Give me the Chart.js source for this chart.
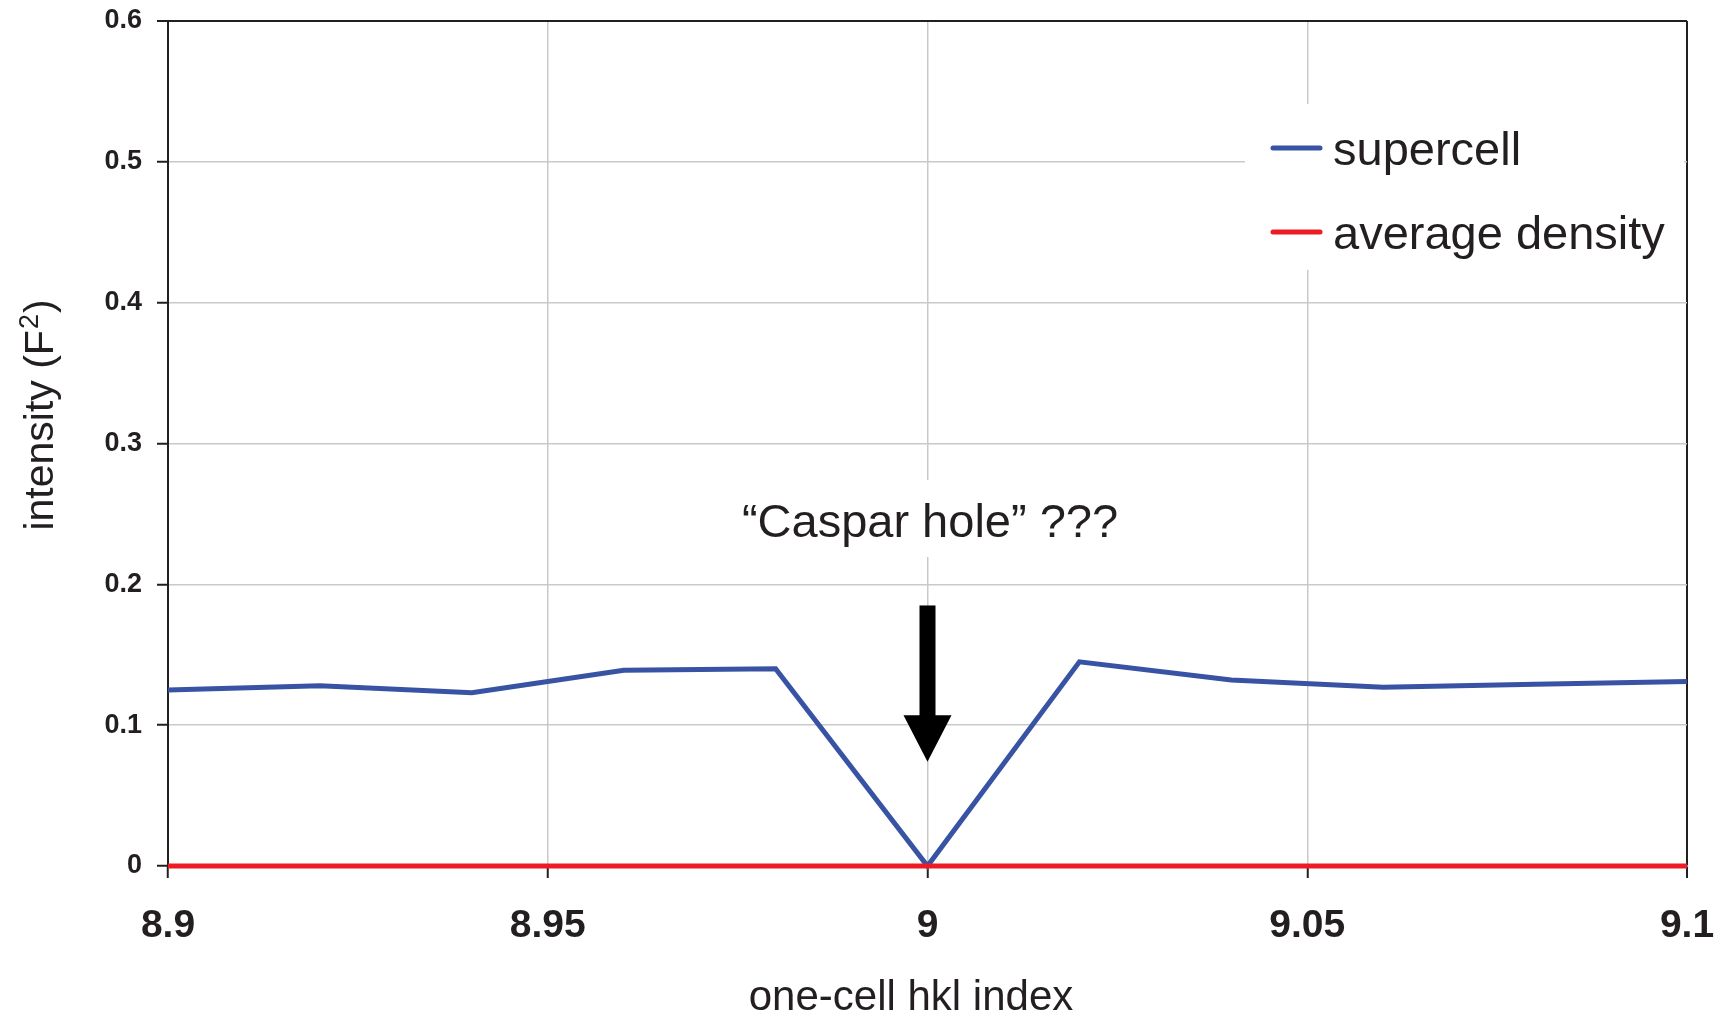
<!DOCTYPE html>
<html>
<head>
<meta charset="utf-8">
<title>Intensity vs. one-cell hkl index</title>
<script src="https://cdn.jsdelivr.net/npm/chart.js@4.4.1/dist/chart.umd.min.js"></script>
<style>
  html, body { margin: 0; padding: 0; background: #fff; }
  #wrap { width: 1725px; height: 1023px; }
</style>
</head>
<body>
<div id="wrap"><canvas id="chart" width="1725" height="1023"></canvas></div>
<script>
// hkl positions and intensities
const hklIndex = [8.90, 8.92, 8.94, 8.96, 8.98, 9.00, 9.02, 9.04, 9.06, 9.08, 9.10];
const supercell = [0.125, 0.128, 0.123, 0.139, 0.140, 0.0, 0.145, 0.132, 0.127, 0.129, 0.131];
const averageDensity = [0, 0, 0, 0, 0, 0, 0, 0, 0, 0, 0];

// axis ticks
const xTicks = [8.9, 8.95, 9, 9.05, 9.1];
const xTickLabels = ["8.9", "8.95", "9", "9.05", "9.1"];
const yTicks = [0, 0.1, 0.2, 0.3, 0.4, 0.5, 0.6];
const yTickLabels = ["0", "0.1", "0.2", "0.3", "0.4", "0.5", "0.6"];

// arrow under the "Caspar hole" note (x, shaft top, head base, tip) in data units
const holeX = 9.0;
const arrowTop = 0.185;
const arrowHeadBase = 0.107;
const arrowTip = 0.074;

const FONT = '"Liberation Sans", Arial, Helvetica, sans-serif';
const INK = "#231f20";
const GRID = "#c9c9c9";
const BLUE = "#3953a4";
const RED = "#ed1c24";

function toPoints(xs, ys) {
  return xs.map((x, i) => ({ x: x, y: ys[i] }));
}

// titles, legend and the note are drawn by hand
const extrasPlugin = {
  id: "extras",
  beforeDatasetsDraw(chart) {
    const { ctx, scales } = chart;
    const x = scales.x;
    const y = scales.y;
    ctx.save();

    // white boxes behind legend and note
    ctx.fillStyle = "#fff";
    ctx.fillRect(1245, 104, 439, 166);
    ctx.fillRect(735, 480, 390, 77);

    // legend
    const rows = [
      { label: chart.data.datasets[0].label, color: chart.data.datasets[0].borderColor, cy: 148 },
      { label: chart.data.datasets[1].label, color: chart.data.datasets[1].borderColor, cy: 232 },
    ];
    ctx.lineCap = "round";
    ctx.lineWidth = 5;
    ctx.font = "47px " + FONT;
    ctx.textAlign = "left";
    ctx.textBaseline = "alphabetic";
    rows.forEach((r) => {
      ctx.strokeStyle = r.color;
      ctx.beginPath();
      ctx.moveTo(1273, r.cy);
      ctx.lineTo(1320, r.cy);
      ctx.stroke();
      ctx.fillStyle = INK;
      ctx.fillText(r.label, 1333, r.cy + 17);
    });

    // note text
    ctx.fillStyle = INK;
    ctx.font = "47px " + FONT;
    ctx.textAlign = "center";
    ctx.fillText("\u201CCaspar hole\u201D ???", 930, 537);

    // arrow
    const ax = x.getPixelForValue(holeX);
    const yTop = y.getPixelForValue(arrowTop);
    const yBase = y.getPixelForValue(arrowHeadBase);
    const yTip = y.getPixelForValue(arrowTip);
    ctx.fillStyle = "#000";
    ctx.fillRect(ax - 8, yTop, 16, yBase - yTop + 1);
    ctx.beginPath();
    ctx.moveTo(ax - 24, yBase);
    ctx.lineTo(ax + 24, yBase);
    ctx.lineTo(ax, yTip);
    ctx.closePath();
    ctx.fill();

    // x axis title
    ctx.fillStyle = INK;
    ctx.font = "42px " + FONT;
    ctx.textAlign = "center";
    ctx.fillText("one-cell hkl index", 911, 1010);

    // y axis title with superscript
    ctx.translate(53, 416);
    ctx.rotate(-Math.PI / 2);
    ctx.textAlign = "left";
    const main = "41px " + FONT;
    const sup = "27px " + FONT;
    ctx.font = main;
    const w1 = ctx.measureText("intensity (F").width;
    const w3 = ctx.measureText(")").width;
    ctx.font = sup;
    const w2 = ctx.measureText("2").width;
    let pos = -(w1 + w2 + w3) / 2;
    ctx.font = main;
    ctx.fillText("intensity (F", pos, 0);
    pos += w1;
    ctx.font = sup;
    ctx.fillText("2", pos + 1, -15);
    pos += w2 + 2;
    ctx.font = main;
    ctx.fillText(")", pos, 0);

    ctx.restore();
  },
};

const chart = new Chart(document.getElementById("chart"), {
  type: "line",
  data: {
    datasets: [
      {
        label: "supercell",
        data: toPoints(hklIndex, supercell),
        borderColor: BLUE,
        borderWidth: 5,
        clip: false,
        order: 1,
      },
      {
        label: "average density",
        data: toPoints(hklIndex, averageDensity),
        borderColor: RED,
        borderWidth: 5,
        clip: false,
        order: 0,
      },
    ],
  },
  options: {
    responsive: false,
    animation: false,
    devicePixelRatio: 1,
    layout: { padding: { left: 0, top: 21, right: 38, bottom: 0 } },
    elements: {
      point: { radius: 0, hoverRadius: 0 },
      line: { tension: 0, fill: false },
    },
    plugins: {
      legend: { display: false },
      tooltip: { enabled: false },
    },
    scales: {
      x: {
        type: "linear",
        min: 8.9,
        max: 9.1,
        afterBuildTicks: (s) => {
          s.ticks = xTicks.map((v) => ({ value: v }));
        },
        afterFit: (s) => {
          s.height = 157;
          s.paddingLeft = 0;
          s.paddingRight = 0;
        },
        ticks: {
          autoSkip: false,
          maxRotation: 0,
          padding: 25,
          color: INK,
          font: { family: FONT, size: 39, weight: "bold" },
          callback: (v, i) => xTickLabels[i],
        },
        grid: {
          color: (c) => (c.tick && c.tick.value === 9.1 ? INK : GRID),
          lineWidth: (c) => (c.tick && c.tick.value === 9.1 ? 2 : 1.5),
          tickColor: INK,
          tickLength: 12,
          tickWidth: 2,
        },
        border: { color: INK, width: 2 },
      },
      y: {
        type: "linear",
        min: 0,
        max: 0.6,
        afterBuildTicks: (s) => {
          s.ticks = yTicks.map((v) => ({ value: v }));
        },
        afterFit: (s) => {
          s.width = 168;
          s.paddingTop = 0;
          s.paddingBottom = 0;
        },
        ticks: {
          autoSkip: false,
          padding: 15,
          color: INK,
          font: { family: FONT, size: 27, weight: "bold" },
          callback: (v, i) => yTickLabels[i],
        },
        grid: {
          color: (c) => (c.tick && c.tick.value === 0.6 ? INK : GRID),
          lineWidth: (c) => (c.tick && c.tick.value === 0.6 ? 2 : 1.5),
          tickColor: INK,
          tickLength: 11,
          tickWidth: 2,
        },
        border: { color: INK, width: 2 },
      },
    },
  },
  plugins: [extrasPlugin],
});
</script>
</body>
</html>
